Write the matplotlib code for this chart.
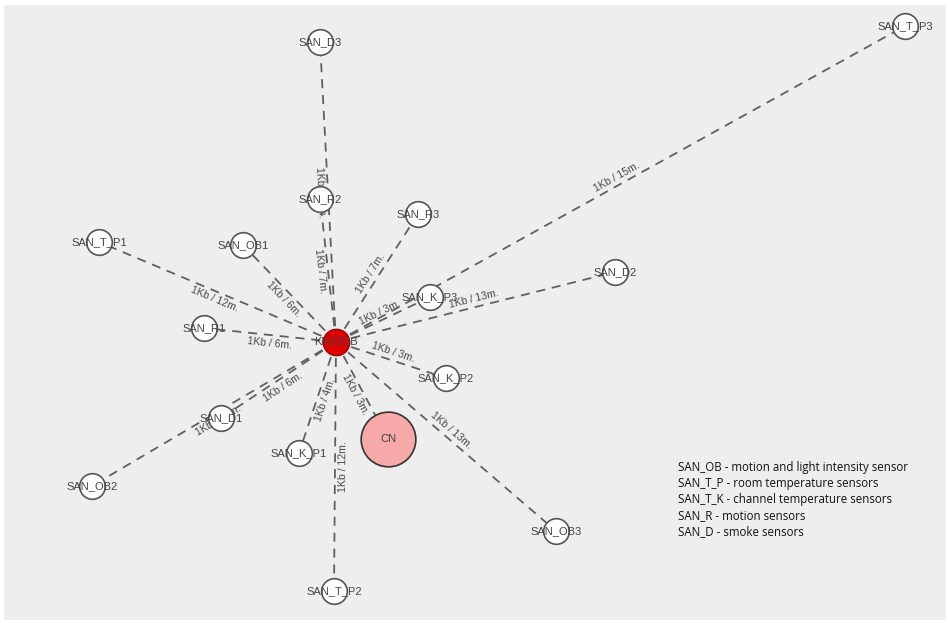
import numpy as np
import matplotlib
matplotlib.use("Agg")
import matplotlib.pyplot as plt

# ---- data ----
hub_name = "KNX/EIB"
hub_pos = (336, 342)
node_names = ["SAN_D3", "SAN_T_P3", "SAN_R2", "SAN_R3", "SAN_T_P1", "SAN_OB1",
              "SAN_D2", "SAN_K_P3", "SAN_R1", "SAN_K_P2", "SAN_D1", "SAN_K_P1",
              "SAN_OB2", "SAN_OB3", "SAN_T_P2", "CN"]
node_x = [320, 905, 320, 418, 99, 243, 615, 430, 204, 446, 221, 299, 92, 556, 334, 388]
node_y = [42, 26, 199, 214, 242, 245, 272, 297, 328, 378, 418, 453, 486, 531, 591, 439]
edge_labels = ["1Kb / 12m.", "1Kb / 15m.", "1Kb / 7m.", "1Kb / 7m.", "1Kb / 12m.", "1Kb / 6m.",
               "1Kb / 13m.", "1Kb / 3m.", "1Kb / 6m.", "1Kb / 3m.", "1Kb / 6m.", "1Kb / 4m.",
               "1Kb / 12m.", "1Kb / 13m.", "1Kb / 12m.", "1Kb / 3m."]
legend_lines = ["SAN_OB - motion and light intensity sensor",
                "SAN_T_P - room temperature sensors",
                "SAN_T_K - channel temperature sensors",
                "SAN_R - motion sensors",
                "SAN_D - smoke sensors"]

# ---- style ----
label_side = [1] * 15 + [-1]
W, H = 948, 623
x0, x1, y0, y1 = 4, 946, 5, 620

fig = plt.figure(figsize=(W / 100, H / 100), dpi=100, facecolor="white")
ax = fig.add_axes([x0 / W, 1 - y1 / H, (x1 - x0) / W, (y1 - y0) / H])
ax.set_facecolor("#eeeeee")
ax.set_xlim(x0, x1)
ax.set_ylim(y1, y0)
ax.axis("off")
ax.add_patch(plt.Rectangle((x0, y0), x1 - x0, y1 - y0, color="#eeeeee", zorder=0))

hx, hy = hub_pos
for name, nx, ny, lab, side in zip(node_names, node_x, node_y, edge_labels, label_side):
    ax.plot([hx, nx], [hy, ny], color="#606060", lw=1.3, ls=(0, (5, 3.8)), zorder=1)
    dx, dy = nx - hx, ny - hy
    L = np.hypot(dx, dy)
    ux, uy = dx / L, dy / L
    # visual-left normal in screen coordinates (y down)
    nxv, nyv = uy, -ux
    off = 8 * side
    mx, my = (hx + nx) / 2 + off * nxv, (hy + ny) / 2 + off * nyv
    ang = np.degrees(np.arctan2(-dy, dx))
    if ang > 90:
        ang -= 180
    elif ang <= -90:
        ang += 180
    ax.text(mx, my, lab, rotation=ang, rotation_mode="anchor", ha="center", va="center",
            fontsize=7.6, color="#4a4a4a", family="Liberation Sans", zorder=2)

# nodes
for name, nx, ny in zip(node_names, node_x, node_y):
    if name == "CN":
        ax.scatter([nx], [ny], s=1550, facecolor="#f7a8a8", edgecolor="#333333", lw=1.2, zorder=3)
    else:
        ax.scatter([nx], [ny], s=340, facecolor="white", edgecolor="#555555", lw=1.2, zorder=3)
    ax.text(nx, ny, name, ha="center", va="center", fontsize=8, color="#444444",
            family="Liberation Sans", zorder=4)

ax.scatter([hx], [hy], s=360, facecolor="#e00000", edgecolor="#990000", lw=1.0, zorder=3)
ax.text(hx, hy, hub_name, ha="center", va="center", fontsize=8, color="#444444",
        family="Liberation Sans", zorder=4)

for i, line in enumerate(legend_lines):
    ax.text(678, 468 + i * 15.8, line, ha="left", va="center", fontsize=8.3,
            color="#111111", family="Open Sans", zorder=4)

fig.savefig("out.png", dpi=100, facecolor="white")
